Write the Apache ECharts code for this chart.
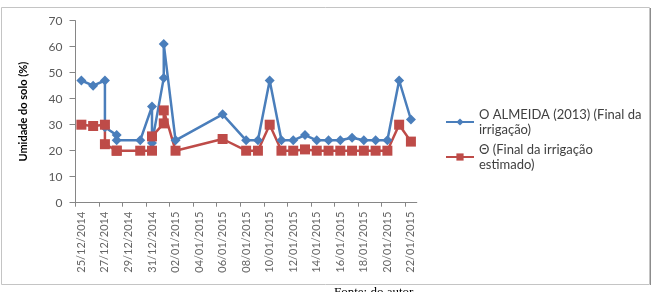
<!DOCTYPE html>
<html>
<head>
<meta charset="utf-8">
<script src="https://cdn.jsdelivr.net/npm/echarts@6.0.0/dist/echarts.min.js"></script>
<style>
	html, body { margin: 0; padding: 0; background: #fff; }
	#umidade { width: 653px; height: 292px; }
</style>
</head>
<body>
<div id="umidade"></div>
<script>
// datas das leituras (repetidas quando houve duas leituras no mesmo dia)
var datas = ['25/12/2014', '26/12/2014', '27/12/2014', '27/12/2014', '28/12/2014', '28/12/2014',
	'30/12/2014', '31/12/2014', '31/12/2014', '01/01/2015', '01/01/2015', '02/01/2015',
	'06/01/2015', '08/01/2015', '09/01/2015', '10/01/2015', '11/01/2015', '12/01/2015',
	'13/01/2015', '14/01/2015', '15/01/2015', '16/01/2015', '17/01/2015', '18/01/2015',
	'19/01/2015', '20/01/2015', '21/01/2015', '22/01/2015'];
var almeida = [47, 45, 47, 29, 26, 24, 24, 37, 23, 48, 61, 24, 34, 24, 24, 47, 24, 24,
	26, 24, 24, 24, 25, 24, 24, 24, 47, 32];
var estimado = [30, 29.5, 30, 22.5, 20, 20, 20, 20, 25.5, 30.5, 35.5, 20, 24.5, 20, 20, 30, 20, 20,
	20.5, 20, 20, 20, 20, 20, 20, 20, 30, 23.5];
var rotulosX = ['25/12/2014', '27/12/2014', '29/12/2014', '31/12/2014', '02/01/2015', '04/01/2015',
	'06/01/2015', '08/01/2015', '10/01/2015', '12/01/2015', '14/01/2015', '16/01/2015',
	'18/01/2015', '20/01/2015', '22/01/2015'];
var rotulosY = [0, 10, 20, 30, 40, 50, 60, 70];

var DIA = 86400000;
function tempo(s) {
	var p = s.split('/');
	return Date.UTC(+p[2], +p[1] - 1, +p[0]);
}
var inicio = tempo(datas[0]);
function dia(s) { return (tempo(s) - inicio) / DIA; }
function pad(n) { return n < 10 ? '0' + n : '' + n; }

var diasRotulo = rotulosX.map(function(s) { return dia(s) + 0.5; });
var diasTick = rotulosX.map(function(s) { return dia(s); });
var nDias = dia(datas[datas.length - 1]) + 1;

function serie(vals) {
	return vals.map(function(v, i) { return [dia(datas[i]) + 0.5, v]; });
}

var e = echarts.init(document.getElementById('umidade')),
a = {
	animation: false,
	backgroundColor: '#fff',
	textStyle: { fontFamily: 'Lato' },
	graphic: [{
		type: 'rect',
		shape: { x: 1.5, y: 7.5, width: 648, height: 277 },
		style: { fill: 'none', stroke: '#c4c4c4', lineWidth: 1 }
	}, {
		type: 'line',
		shape: { x1: 650.5, y1: 8, x2: 650.5, y2: 285 },
		style: { stroke: '#8c8c8c', lineWidth: 1 }
	}, {
		type: 'text',
		left: 334, top: 286,
		style: { text: 'Fonte: do autor', font: '13px "Liberation Serif"', fill: '#000' }
	}],
	grid: {
		left: 75.5,
		top: 20.7,
		width: 341.3,
		height: 182
	},
	legend: {
		orient: 'vertical',
		left: 445,
		top: 99.5,
		padding: 0,
		itemWidth: 28,
		itemHeight: 9,
		itemGap: -10,
		textStyle: {
			fontFamily: 'Lato',
			fontSize: 13,
			color: '#404040',
			lineHeight: 15,
			padding: [15, 0, 0, 0]
		},
		data: ['O ALMEIDA (2013) (Final da\nirrigação)', 'Θ (Final da irrigação\nestimado)']
	},
	xAxis: {
		type: 'value',
		min: 0,
		max: nDias,
		splitLine: { show: false },
		axisLine: { lineStyle: { color: '#868686' } },
		axisTick: { length: 4, customValues: diasTick, lineStyle: { color: '#868686' } },
		axisLabel: {
			customValues: diasRotulo,
			rotate: 90,
			margin: 9,
			fontSize: 11,
			color: '#666',
			formatter: function(v) {
				var d = new Date(inicio + Math.floor(v) * DIA);
				return pad(d.getUTCDate()) + '/' + pad(d.getUTCMonth() + 1) + '/' + d.getUTCFullYear();
			}
		}
	},
	yAxis: {
		type: 'value',
		min: rotulosY[0],
		max: rotulosY[rotulosY.length - 1],
		interval: 10,
		name: 'Umidade do solo (%)',
		nameLocation: 'middle',
		nameGap: 47,
		nameTextStyle: { fontSize: 11, fontWeight: 'bold', color: '#000' },
		splitLine: { show: false },
		axisLine: { show: true, lineStyle: { color: '#868686' } },
		axisTick: { show: true, length: 6, lineStyle: { color: '#868686' } },
		axisLabel: { margin: 13, fontSize: 12, color: '#595959' }
	},
	series: [{
		name: 'O ALMEIDA (2013) (Final da\nirrigação)',
		type: 'line',
		symbol: 'diamond',
		symbolSize: 10,
		itemStyle: { color: '#4a7ebb' },
		lineStyle: { width: 2.5, color: '#4a7ebb' },
		data: serie(almeida)
	}, {
		name: 'Θ (Final da irrigação\nestimado)',
		type: 'line',
		symbol: 'rect',
		symbolSize: 10,
		itemStyle: { color: '#be4b48' },
		lineStyle: { width: 2.5, color: '#be4b48' },
		data: serie(estimado)
	}]
};
e.setOption(a);
window.addEventListener('resize', function() { e.resize(); });
</script>
</body>
</html>
